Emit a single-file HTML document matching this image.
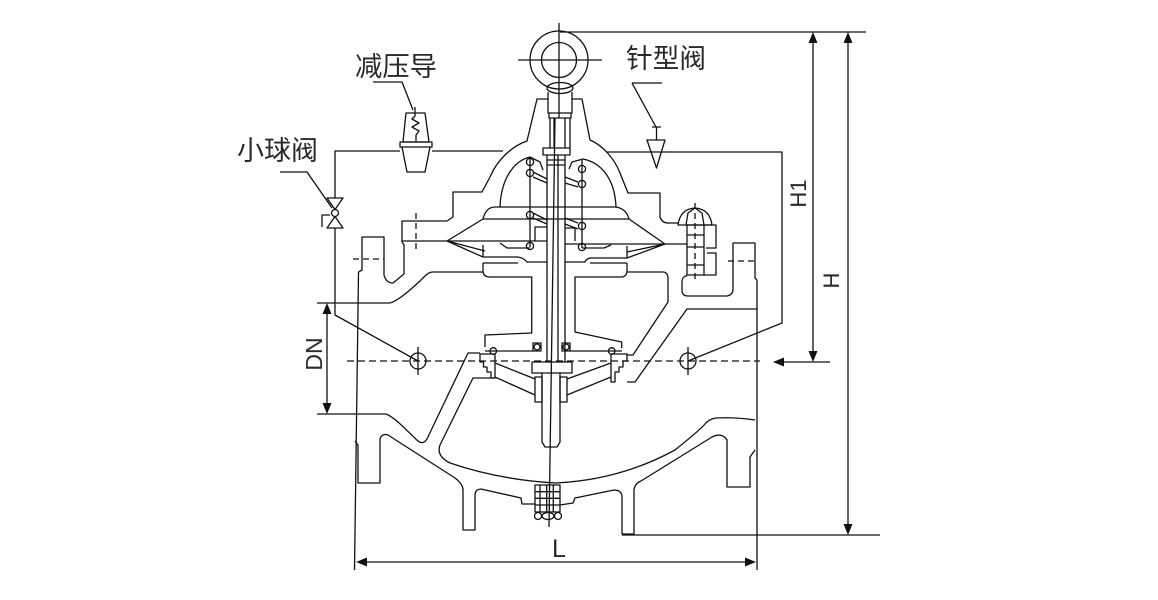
<!DOCTYPE html>
<html><head><meta charset="utf-8">
<style>html,body{margin:0;padding:0;background:#fff;width:1158px;height:600px;overflow:hidden}</style>
</head><body>
<svg width="1158" height="600" viewBox="0 0 1158 600" xmlns="http://www.w3.org/2000/svg">
<g fill="none" stroke="#111" stroke-width="1.3" stroke-linejoin="round" stroke-linecap="butt">
<!-- dimension lines -->
<path d="M560,32 H866"/>
<path d="M813,40 V354"/>
<path d="M848,40 V527"/>
<path d="M781,362 H830"/>
<path d="M622,535 H880"/>
<path d="M327,311 V406"/>
<path d="M364,562 H748"/>
<path d="M358.5,272 L354.5,570"/>
<path d="M757,280 V570"/>
<!-- dashed centerline -->
<path d="M347,361 H760" stroke-dasharray="7 4"/>
<path d="M353,259 H384" stroke-dasharray="6 4"/>
<path d="M728,261 H757" stroke-dasharray="6 4"/>
<path d="M416,213 V252" stroke-dasharray="6 4"/>
<path d="M695,203 V281" stroke-dasharray="6 4"/>
<!-- gauge circles -->
<circle cx="418" cy="361" r="8"/>
<path d="M418,347 V375"/>
<circle cx="688" cy="361" r="8"/>
<path d="M688,347 V375"/>
<!-- pipes -->
<path d="M418,361 L335,315 V228"/>
<path d="M335,198 V151 H400"/>
<path d="M432,151 H503"/>
<path d="M607,152 H782 V323 L688,361"/>
<!-- ball valve -->
<path d="M327,198 H343 L335,209.5 Z"/>
<path d="M327,228 H343 L335,216.5 Z"/>
<circle cx="335" cy="213" r="3.5"/>
<path d="M322,227 V215 H330"/>
<path d="M280,172 H307 L332,208"/>
<!-- pressure pilot -->
<path d="M406,113 H425 L429,142 H403 Z"/>
<rect x="400" y="142" width="32" height="5"/>
<path d="M402,147 L407,172 H425 L430,147"/>
<path d="M415,107 V116 L412,119 L419,123 L412,127 L419,131 L416,135 V141"/>
<path d="M373,82 H402 L413,110"/>
<!-- needle valve -->
<path d="M647,140 H665 L656.5,168 Z"/>
<path d="M656.5,127 V140 M652,127 H661"/>
<path d="M632,83 H662 M632,83 L656,127"/>
<!-- ring -->
<circle cx="559" cy="60" r="29"/>
<circle cx="559" cy="60" r="17.5"/>
<path d="M518,60 H602"/>
<path d="M559,23 V118"/>
<ellipse cx="560" cy="88" rx="13" ry="5.5"/>
<path d="M548,92 V113 H572 V92"/>
<path d="M549,113 V118 H571 V113"/>
<!-- stem -->
<path d="M550,118 V148 M570,118 V148 M554,118 V148 M565,118 V148"/>
<rect x="543" y="148" width="27" height="7"/>
<path d="M547,155 V362 M565,155 V362 M558,155 V362"/>
<path d="M547,160 H565 M547,165 H565"/>
<path d="M555,118 L549,527"/>
<!-- bonnet outer -->
<path d="M548,99 H537 L527,141 C512,146 497,160 490,177 L482,192 H453 V217 L447,221 H402 V242"/>
<path d="M572,99 H582 L590,140 C604,146 615,160 620,173 L628,193 H660 V217 Q662,223 668,223 H679"/>
<!-- inner dome -->
<path d="M500,207 C501,180 513,161 530,157 L540,162 L543,170"/>
<path d="M616,207 C615,181 603,163 583,159 L572,162 L569,169"/>
<!-- springs -->
<path d="M530,157 V247 M582,160 V248"/>
<circle cx="530" cy="162" r="3.6"/><circle cx="530" cy="173" r="3.6"/>
<circle cx="530" cy="215" r="3.6"/><circle cx="530" cy="246" r="3.6"/>
<circle cx="582" cy="169" r="3.6"/><circle cx="582" cy="184" r="3.6"/>
<circle cx="582" cy="226" r="3.6"/><circle cx="582" cy="247" r="3.6"/>
<path d="M533,172 L547,179 M533,177 L547,183 M533,213 L547,220 M533,218 L547,224"/>
<path d="M578,182 L565,177 M578,187 L565,183 M578,223 L565,218 M578,229 L565,224"/>
<!-- upper plate -->
<path d="M483,219 Q486,207 495,207 H615 Q626,208 629,219 Z"/>
<!-- diaphragm -->
<path d="M402,241 H547 M565,244 H687"/>
<path d="M447,241 L483,219 M629,219 L665,244"/>
<path d="M447,241 L483,257 M447,241 L485,251"/>
<path d="M665,244 L627,258 M665,244 L627,252"/>
<path d="M483,245 V257 H518 Q524,258 527,262 H547"/>
<path d="M627,246 V258 H590 Q586,259 585,262 H565"/>
<path d="M500,243 L507,248 H530 M611,245 L604,248 H582"/>
<path d="M535,241 V227 H547 M575,241 V228 H565"/>
<!-- guide -->
<path d="M483,263 H518 M627,263 H590"/>
<path d="M390,303 C400,300 412,288 420,281 C425,276 428,272 433,272 H483 V263 M483,272 Q484,277 490,277 H531.7 V333 L485,335 V347"/>
<path d="M668,302 V277 Q667,272 663,272 H627 V263 M627,272 Q626,277 621,277 H575 V332 L621.7,342 V348"/>
<path d="M485,351 H533 M570,351 H622"/>
<circle cx="493.3" cy="351" r="3.3"/>
<circle cx="611.7" cy="351" r="3.3"/>
<rect x="533" y="343" width="8" height="8"/>
<rect x="562" y="343" width="8" height="8"/>
<circle cx="537" cy="347" r="3"/>
<circle cx="566" cy="347" r="3"/>
<!-- seat rings -->
<path d="M480,354 H495 V378 H491 V372 H487 V367 H483.5 V362 H480 Z"/>
<path d="M611,354 H627 V361 H623 V367 H619 V372 H615 V382 H611 Z"/>
<!-- disc -->
<rect x="532" y="362" width="40" height="11"/>
<path d="M542,373 V442 L545,447 H557 L560,442 V373"/>
<rect x="535" y="377" width="7" height="25"/>
<rect x="560" y="377" width="7" height="25"/>
<path d="M495,363 L535,379 M495,377 L535,395"/>
<path d="M611,363 L567,379 M611,377 L567,395"/>
<!-- bolt right -->
<path d="M678,225 Q680,209 695,208 Q710,209 712,225 Z"/>
<path d="M686,225 L688,213 L695,208 L702,213 L704,225"/>
<rect x="687" y="225" width="17" height="50"/>
<path d="M687,235 H704 M687,247 H704 M687,265 H704"/>
<path d="M704,225 H716 V248 H706"/>
<path d="M707,253 H716 V275 H704"/>
<path d="M687,276 H685 Q682,278 682,282 V290 Q682,296 688,296 H727 Q733,295 733,289 V243 H755 V278 L757,280"/>
<!-- left flange upper -->
<path d="M358.5,272 L362,270 V237 H384 V275 Q386,283 393,283 L404,274 V245 L402,242"/>
<!-- body walls -->
<path d="M317,303 H390"/>
<path d="M317,414 H386 C396,418 408,432 418,441 Q423,445 427,439 L468,353 H480"/>
<path d="M495,378 H473 L440,445 Q436,456 450,463 Q500,480 556,483 Q620,480 675,450 Q700,430 705,424 Q709,419 716,418 Q735,417 755,420"/>
<path d="M668,302 L633,355 H627"/>
<path d="M757,309 H687 L635,382 H627"/>
<!-- lower flanges/feet -->
<path d="M355,441 L358,445 V483 H380 V439 Q382,433 388,435 L455,478 Q463,484 463,490 V530 H475 V494 Q476,489 481,489 L521,498 L522,504 H535"/>
<path d="M560,505 L573,503 L575,498 L614,490 Q621,490 622,496 V534 H634 V490 Q635,483 641,481 L712,437 Q722,432 727,440 V487 H750 V457 L755,450"/>
<!-- bottom nut -->
<rect x="535" y="485" width="25" height="27"/>
<path d="M540,485 V512 M546.7,485 V512 M553.3,485 V512 M535,491.7 H560 M535,498.3 H560 M535,505 H560"/>
<circle cx="538" cy="516" r="3.5"/>
<ellipse cx="548" cy="516" rx="6" ry="3.5"/>
<circle cx="558" cy="516" r="3.5"/>
</g>
<!-- arrowheads -->
<g fill="#111" stroke="none">
<polygon points="813,32 808.5,43 817.5,43"/>
<polygon points="848,32 843.5,43 852.5,43"/>
<polygon points="813,362 808.5,351 817.5,351"/>
<polygon points="848,535 843.5,524 852.5,524"/>
<polygon points="773,362 784,357.5 784,366.5"/>
<polygon points="327,303 322.5,314 331.5,314"/>
<polygon points="327,414 322.5,403 331.5,403"/>
<polygon points="356,562 367,557.5 367,566.5"/>
<polygon points="756,562 745,557.5 745,566.5"/>
</g>
<!-- text -->
<g fill="#2a2a2a" font-family="'Liberation Sans','Noto Sans CJK SC',sans-serif">
<text x="355" y="76" font-size="27" font-family="'Noto Sans CJK SC',sans-serif" textLength="82" lengthAdjust="spacingAndGlyphs">减压导</text>
<text x="237" y="160" font-size="27" font-family="'Noto Sans CJK SC',sans-serif" textLength="81" lengthAdjust="spacingAndGlyphs">小球阀</text>
<text x="626" y="68" font-size="27" font-family="'Noto Sans CJK SC',sans-serif" textLength="80" lengthAdjust="spacingAndGlyphs">针型阀</text>
<text transform="translate(806,193.5) rotate(-90)" font-size="22" text-anchor="middle">H1</text>
<text transform="translate(839,280.5) rotate(-90)" font-size="22" text-anchor="middle">H</text>
<text transform="translate(322,354) rotate(-90)" font-size="23" text-anchor="middle">DN</text>
<text x="552" y="557" font-size="25">L</text>
</g>
</svg>
</body></html>
